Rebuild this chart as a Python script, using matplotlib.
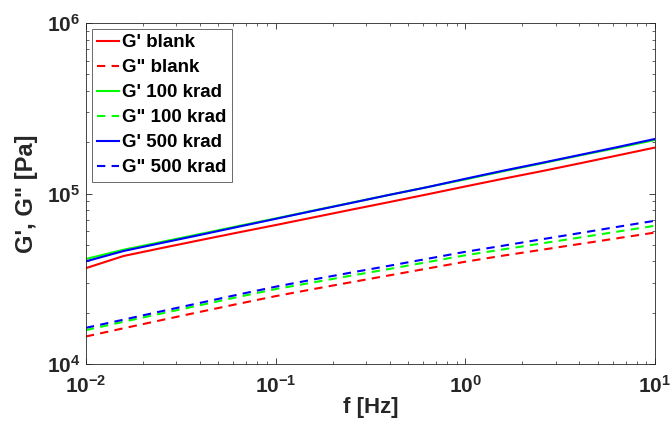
import matplotlib
matplotlib.use("Agg")
import matplotlib.pyplot as plt
from matplotlib.ticker import FuncFormatter, LogLocator
import numpy as np

plt.rcParams['font.family'] = ['Liberation Sans', 'DejaVu Sans']
plt.rcParams['mathtext.fontset'] = 'custom'
plt.rcParams['mathtext.rm'] = 'Liberation Sans:bold'
plt.rcParams['mathtext.bf'] = 'Liberation Sans:bold'

# frequency sweep [Hz]
freq = [0.01, 0.0158, 0.0251, 0.0398, 0.0631, 0.1, 0.158, 0.251, 0.398,
        0.631, 1.0, 1.58, 2.51, 3.98, 6.31, 10.0]

# storage modulus G' [Pa]
gp_blank = [3.65e4, 4.30e4, 4.79e4, 5.32e4, 5.90e4, 6.53e4, 7.24e4, 8.04e4,
            8.91e4, 9.89e4, 1.10e5, 1.22e5, 1.35e5, 1.50e5, 1.67e5, 1.86e5]
gp_100 = [4.13e4, 4.68e4, 5.20e4, 5.78e4, 6.43e4, 7.14e4, 7.94e4, 8.83e4,
          9.82e4, 1.09e5, 1.21e5, 1.35e5, 1.50e5, 1.67e5, 1.85e5, 2.06e5]
gp_500 = [4.00e4, 4.60e4, 5.13e4, 5.71e4, 6.37e4, 7.10e4, 7.91e4, 8.81e4,
          9.82e4, 1.09e5, 1.22e5, 1.36e5, 1.51e5, 1.68e5, 1.87e5, 2.09e5]

# loss modulus G" [Pa]
gpp_blank = [1.45e4, 1.62e4, 1.81e4, 2.02e4, 2.25e4, 2.50e4, 2.75e4, 3.02e4,
             3.31e4, 3.63e4, 3.98e4, 4.32e4, 4.67e4, 5.05e4, 5.46e4, 5.90e4]
gpp_100 = [1.58e4, 1.77e4, 1.98e4, 2.21e4, 2.47e4, 2.75e4, 3.01e4, 3.30e4,
           3.61e4, 3.96e4, 4.34e4, 4.70e4, 5.09e4, 5.51e4, 5.97e4, 6.47e4]
gpp_500 = [1.63e4, 1.82e4, 2.04e4, 2.28e4, 2.55e4, 2.84e4, 3.13e4, 3.44e4,
           3.77e4, 4.14e4, 4.55e4, 4.94e4, 5.38e4, 5.85e4, 6.37e4, 6.92e4]

series = [
    (gp_blank, "G' blank", 'red', '-'),
    (gpp_blank, 'G" blank', 'red', '--'),
    (gp_100, "G' 100 krad", '#00ff00', '-'),
    (gpp_100, 'G" 100 krad', '#00ff00', '--'),
    (gp_500, "G' 500 krad", 'blue', '-'),
    (gpp_500, 'G" 500 krad', 'blue', '--'),
]

fig = plt.figure(figsize=(6.71, 4.23), dpi=100)
ax = fig.add_axes([0.128, 0.1395, 0.848, 0.806])

for vals, lab, col, ls in series:
    ax.plot(freq, vals, color=col, linestyle=ls, linewidth=1.5, label=lab,
            dashes=(4, 3) if ls == '--' else (None, None))

ax.set_xscale('log')
ax.set_yscale('log')
ax.set_xlim(1e-2, 1e1)
ax.set_ylim(1e4, 1e6)

def fmt(v, pos):
    e = int(round(np.log10(v)))
    return r'$\mathbf{10^{%d}}$' % e

ax.xaxis.set_major_locator(LogLocator(base=10, numticks=10))
ax.yaxis.set_major_locator(LogLocator(base=10, numticks=10))
ax.xaxis.set_major_formatter(FuncFormatter(fmt))
ax.yaxis.set_major_formatter(FuncFormatter(fmt))

ax.tick_params(which='both', direction='in', top=True, right=True,
               colors='#262626', labelcolor='#262626')
ax.tick_params(which='major', length=4, width=0.6, labelsize=15)
ax.tick_params(which='minor', length=2, width=0.5)
ax.tick_params(axis='x', which='major', pad=8)
ax.tick_params(axis='y', which='major', pad=4)
for sp in ax.spines.values():
    sp.set_color('#262626')
    sp.set_linewidth(0.6)

ax.set_xlabel('f [Hz]', fontsize=16, fontweight='bold', color='#262626', labelpad=0)
ax.set_ylabel('G\', G" [Pa]', fontsize=17, fontweight='bold', color='#262626', labelpad=6)

leg = ax.legend(loc='upper left', frameon=True, fancybox=False,
                handlelength=1.15, handletextpad=0.15, borderpad=0.3,
                labelspacing=0.42, borderaxespad=0.3, edgecolor='#262626',
                prop={'weight': 'bold', 'size': 13.5})
leg.get_frame().set_linewidth(0.6)

fig.savefig('out.png', dpi=100)
